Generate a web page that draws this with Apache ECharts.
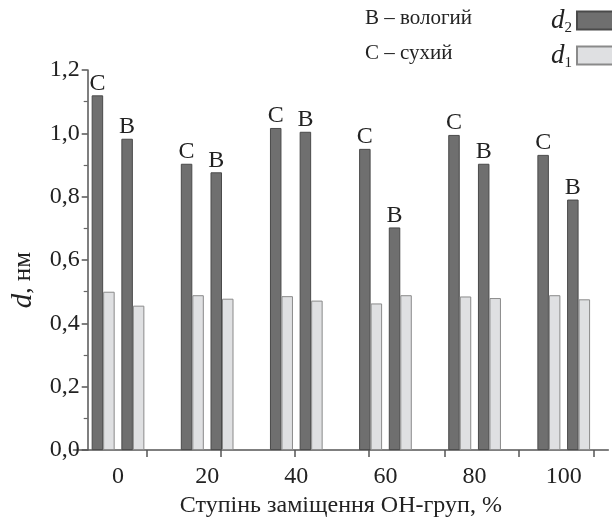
<!DOCTYPE html>
<html>
<head>
<meta charset="utf-8">
<script src="https://cdn.jsdelivr.net/npm/echarts@6/dist/echarts.min.js"></script>
<style>
  html, body { margin: 0; padding: 0; background: #fff; }
  #main { width: 612px; height: 523px; }
</style>
</head>
<body>
<div id="main"></div>
<script>
// категорії: ступінь заміщення OH-груп, %
var categories = ['0', '20', '40', '60', '80', '100'];
// С – сухий
var dryD2 = [1.12, 0.904, 1.017, 0.951, 0.995, 0.932];
var dryD1 = [0.50, 0.489, 0.486, 0.463, 0.485, 0.489];
// В – вологий
var wetD2 = [0.983, 0.877, 1.005, 0.703, 0.904, 0.791];
var wetD1 = [0.456, 0.478, 0.472, 0.489, 0.480, 0.476];
// позиції штрихів на осі x (в одиницях категорій)
var xTickPos = [0.822, 1.656, 2.487, 3.318, 4.160, 4.991, 5.833];

var FONT = 'Liberation Serif';
var DARK = '#6f6f6f', DARK_B = '#4a4a4a';
var LIGHT = '#dfe0e2', LIGHT_B = '#8a8a8a';

var chart = echarts.init(document.getElementById('main'));

function bar(name, data, color, border, letter) {
  return {
    name: name,
    type: 'bar',
    xAxisIndex: 0,
    data: data,
    barWidth: 11.5,
    barGap: '0%',
    itemStyle: { color: color, borderColor: border, borderWidth: 1 },
    label: {
      show: !!letter,
      position: 'top',
      distance: 0,
      formatter: letter || '',
      fontFamily: FONT,
      fontSize: 24,
      color: '#222'
    },
    emphasis: { disabled: true }
  };
}

var option = {
  backgroundColor: '#fff',
  animation: false,
  textStyle: { fontFamily: FONT },
  grid: { left: 73.45, right: 3.7, top: 70, bottom: 71 },
  legend: {
    data: ['d2', 'd1'],
    orient: 'vertical',
    left: 546,
    top: 2,
    align: 'right',
    itemWidth: 42,
    itemHeight: 18,
    itemGap: 6,
    icon: 'rect',
    selectedMode: false,
    formatter: function (n) { return '{i|d}{s|' + n.slice(1) + '}'; },
    textStyle: {
      rich: {
        i: { fontFamily: FONT, fontStyle: 'italic', fontSize: 27, color: '#222' },
        s: { fontFamily: FONT, fontSize: 15, color: '#222', padding: [16, 0, 0, 0] }
      }
    }
  },
  graphic: [
    { type: 'text', left: 365, top: 8, style: { text: 'В – вологий', font: '21px "Liberation Serif"', fill: '#222' } },
    { type: 'text', left: 365, top: 43, style: { text: 'С – сухий', font: '21px "Liberation Serif"', fill: '#222' } }
  ],
  xAxis: [
    {
      type: 'category',
      data: categories,
      axisLine: { lineStyle: { color: '#555', width: 1.5 } },
      axisTick: { show: false },
      axisLabel: { fontFamily: FONT, fontSize: 24, color: '#222', margin: 15 },
      name: 'Ступінь заміщення ОН-груп, %',
      nameLocation: 'middle',
      nameGap: 42,
      nameTextStyle: { fontFamily: FONT, fontSize: 24, color: '#222' }
    },
    {
      type: 'value',
      min: 0,
      max: 6,
      position: 'bottom',
      axisLine: { show: false },
      splitLine: { show: false },
      axisLabel: { show: false },
      axisTick: { show: true, customValues: xTickPos, length: 7, lineStyle: { color: '#555', width: 1.5 } }
    }
  ],
  yAxis: {
    type: 'value',
    min: 0,
    max: 1.2,
    interval: 0.2,
    offset: -14.25,
    axisLine: { show: true, lineStyle: { color: '#555', width: 1.5 } },
    axisTick: { show: true, length: 6, lineStyle: { color: '#555', width: 1.5 } },
    minorTick: { show: true, splitNumber: 2, length: 4, lineStyle: { color: '#666', width: 1.2 } },
    splitLine: { show: false },
    axisLabel: {
      fontFamily: FONT, fontSize: 24, color: '#222', margin: 8,
      formatter: function (v) { return v.toFixed(1).replace('.', ','); }
    },
    name: '{i|d}, нм',
    nameLocation: 'middle',
    nameGap: 50,
    nameTextStyle: {
      fontFamily: FONT, fontSize: 25, color: '#222',
      padding: [0, 40, 0, 0],
      rich: { i: { fontFamily: FONT, fontStyle: 'italic', fontSize: 29, color: '#222' } }
    }
  },
  series: [
    bar('d2', dryD2, DARK, DARK_B, 'С'),
    bar('d1', dryD1, LIGHT, LIGHT_B, null),
    { name: 'gap', type: 'bar', data: [0, 0, 0, 0, 0, 0], barWidth: 6.7, barGap: '0%', itemStyle: { color: 'transparent' }, silent: true },
    bar('d2', wetD2, DARK, DARK_B, 'В'),
    bar('d1', wetD1, LIGHT, LIGHT_B, null)
  ]
};

chart.setOption(option);
</script>
</body>
</html>
